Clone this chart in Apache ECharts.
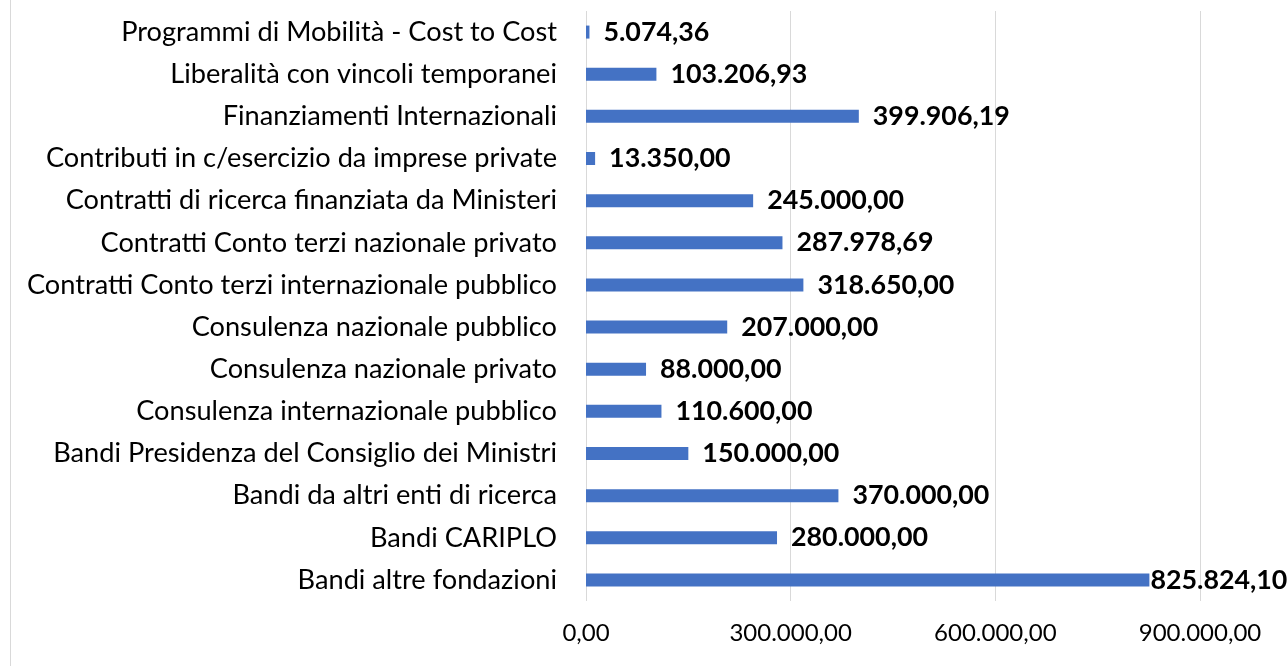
<!DOCTYPE html>
<html><head><meta charset="utf-8">
<script src="https://cdn.jsdelivr.net/npm/echarts@6/dist/echarts.min.js"></script>
<style>html,body{margin:0;padding:0;background:#fff}#c{width:1288px;height:666px}</style>
</head><body><div id="c"></div>
<script>
const categories = [
  "Programmi di Mobilità - Cost to Cost",
  "Liberalità con vincoli temporanei",
  "Finanziamenti Internazionali",
  "Contributi in c/esercizio da imprese private",
  "Contratti di ricerca finanziata da Ministeri",
  "Contratti Conto terzi nazionale privato",
  "Contratti Conto terzi internazionale pubblico",
  "Consulenza nazionale pubblico",
  "Consulenza nazionale privato",
  "Consulenza internazionale pubblico",
  "Bandi Presidenza del Consiglio dei Ministri",
  "Bandi da altri enti di ricerca",
  "Bandi CARIPLO",
  "Bandi altre fondazioni"
];
const values = [5074.36, 103206.93, 399906.19, 13350.00, 245000.00, 287978.69, 318650.00, 207000.00, 88000.00, 110600.00, 150000.00, 370000.00, 280000.00, 825824.10];
const axisMin = 0, axisMax = 900000, axisStep = 300000;

function fmtIt(v) {
  const parts = v.toFixed(2).split('.');
  parts[0] = parts[0].replace(/\B(?=(\d{3})+(?!\d))/g, '.');
  return parts[0] + ',' + parts[1];
}
const FONT = 'Lato';
const chart = echarts.init(document.getElementById('c'), null, {renderer: 'canvas'});
const data = values.map(v => {
  const item = {value: v};
  if (v > 800000) item.label = {distance: 1};
  return item;
});
chart.setOption({
  animation: false,
  textStyle: {fontFamily: FONT},
  graphic: [{type: 'line', shape: {x1: 10.5, y1: 0, x2: 10.5, y2: 666}, style: {stroke: '#d9d9d9', lineWidth: 1}}],
  grid: {left: 586, right: 88, top: 11, bottom: 65, containLabel: false},
  xAxis: {
    type: 'value', min: axisMin, max: axisMax, interval: axisStep,
    axisLine: {show: false}, axisTick: {show: false},
    splitLine: {show: true, lineStyle: {color: '#d9d9d9', width: 1}},
    axisLabel: {color: '#000', fontSize: 24, fontFamily: FONT, margin: 20, formatter: v => fmtIt(v)}
  },
  yAxis: {
    type: 'category', data: categories, inverse: true,
    axisLine: {show: false}, axisTick: {show: false},
    axisLabel: {color: '#000', fontSize: 27.2, fontFamily: FONT, margin: 29}
  },
  series: [{
    type: 'bar', data: data, barWidth: 13,
    itemStyle: {color: '#4472C4'},
    label: {show: true, position: 'right', distance: 14, color: '#000', fontSize: 26.8, fontWeight: 'bold', fontFamily: FONT,
      formatter: p => fmtIt(p.value)}
  }]
});
</script></body></html>
